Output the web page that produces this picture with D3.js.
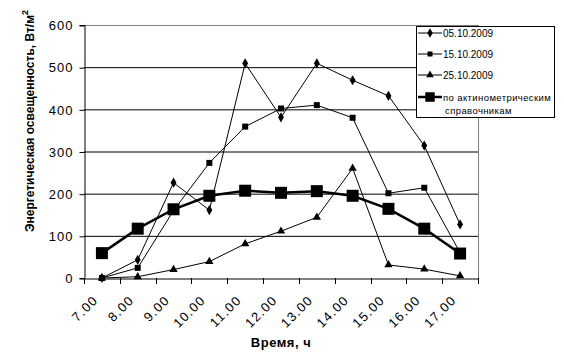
<!DOCTYPE html>
<html><head><meta charset="utf-8">
<script src="https://cdn.jsdelivr.net/npm/d3@7"></script>
<style>body{margin:0;background:#fff}svg{display:block;font-family:"Liberation Sans",Arial,sans-serif}</style>
</head><body><svg id="c" width="564" height="355"></svg>
<script>
const categories = ["7.00","8.00","9.00","10.00","11.00","12.00","13.00","14.00","15.00","16.00","17.00"];
const s0510 = [0,43,226,161,509,381,509,469,432,314,127];
const s1510 = [0,24,160,273,359,402,410,380,201,214,60];
const s2510 = [0,3,20,39,81,111,144,260,31,21,5];
const sRef  = [59,117,163,195,207,202,206,195,164,117,58];
const yTicks = [0,100,200,300,400,500,600];
const seriesNames = ["05.10.2009","15.10.2009","25.10.2009","по актинометрическим справочникам"];

const svg = d3.select("#c");
const L=84,R=478,T=25,B=278;
const x = d3.scaleBand().domain(categories).range([L,R]);
const y = d3.scaleLinear().domain([0,600]).range([B,T]);
const cx = d => x(d)+x.bandwidth()/2;

// gridlines
svg.append("g").selectAll("line").data(yTicks.filter(v=>v>0)).join("line")
  .attr("x1",L).attr("x2",R).attr("y1",d=>y(d)+0.5).attr("y2",d=>y(d)+0.5)
  .attr("stroke",d=>d===600?"#808080":"#000").attr("stroke-width",1);
svg.append("line").attr("x1",R+0.5).attr("x2",R+0.5).attr("y1",T).attr("y2",B).attr("stroke","#808080");

// y axis
const ya = svg.append("g").attr("transform",`translate(${L+0.5},0)`)
  .call(d3.axisLeft(y).tickValues(yTicks).tickSize(5).tickFormat(d3.format("d")));
ya.select(".domain").attr("stroke","#000");
ya.selectAll(".tick line").attr("stroke","#000").attr("transform","translate(0,0.5)");
ya.selectAll("text").attr("font-size",13).attr("fill","#000").attr("letter-spacing",1)
  .attr("font-family","Liberation Sans, Arial, sans-serif").attr("x",-11).attr("dy","0.36em");

// x axis
const xa = svg.append("g").attr("transform",`translate(0,${B+0.5})`)
  .call(d3.axisBottom(x).tickSize(0).tickFormat(""));
xa.select(".domain").attr("stroke","#000");
const bounds = d3.range(categories.length+1).map(i=>L+i*x.bandwidth());
svg.append("g").selectAll("line").data(bounds).join("line")
  .attr("x1",d=>Math.round(d)+0.5).attr("x2",d=>Math.round(d)+0.5).attr("y1",B).attr("y2",B+6).attr("stroke","#000");
svg.append("g").selectAll("text").data(categories).join("text")
  .attr("transform",d=>`translate(${cx(d)-3},${B+23}) rotate(-45)`)
  .attr("text-anchor","end").attr("font-size",13).attr("letter-spacing",1.3).text(d=>d);

// axis titles
svg.append("text").attr("x",281).attr("y",347).attr("text-anchor","middle")
  .attr("font-size",13).attr("font-weight","bold").attr("letter-spacing",0.5).text("Время, ч");
const yt = svg.append("text").attr("transform","translate(34,121) rotate(-90)")
  .attr("text-anchor","middle").attr("font-size",12).attr("font-weight","bold");
yt.append("tspan").text("Энергетическая освещенность, Вт/м");
yt.append("tspan").attr("dy",-6).attr("font-size",9).text("2");

// series
const line = d3.line().x((d,i)=>cx(categories[i])).y(d=>y(d));
const sym = (type,size)=>d3.symbol().type(type).size(size)();
function drawSeries(data, w, type, size){
  svg.append("path").attr("d",line(data)).attr("fill","none").attr("stroke","#000").attr("stroke-width",w);
  svg.append("g").selectAll("path").data(data).join("path")
    .attr("transform",(d,i)=>`translate(${cx(categories[i])},${y(d)})`)
    .attr("d",sym(type,size)).attr("fill","#000");
}
drawSeries(s0510,1,d3.symbolDiamond,30);
drawSeries(s1510,1,d3.symbolSquare,36);
drawSeries(s2510,1,d3.symbolTriangle,30);
drawSeries(sRef,2.5,d3.symbolSquare,144);

// legend
const lg = svg.append("g");
lg.append("rect").attr("x",416.5).attr("y",26.5).attr("width",138).attr("height",91).attr("fill","#fff").attr("stroke","#000");
const legItems = [
  {name:seriesNames[0],type:d3.symbolDiamond,size:25,w:1,yy:33},
  {name:seriesNames[1],type:d3.symbolSquare,size:25,w:1,yy:54},
  {name:seriesNames[2],type:d3.symbolTriangle,size:25,w:1,yy:75},
  {name:seriesNames[3],type:d3.symbolSquare,size:90,w:2.5,yy:97}
];
legItems.forEach(it=>{
  lg.append("line").attr("x1",418).attr("x2",442).attr("y1",it.yy).attr("y2",it.yy).attr("stroke","#000").attr("stroke-width",it.w);
  lg.append("path").attr("transform",`translate(430,${it.yy})`).attr("d",sym(it.type,it.size)).attr("fill","#000");
});
lg.append("text").attr("x",443).attr("y",37).attr("font-size",10).text(seriesNames[0]);
lg.append("text").attr("x",443).attr("y",58).attr("font-size",10).text(seriesNames[1]);
lg.append("text").attr("x",443).attr("y",79).attr("font-size",10).text(seriesNames[2]);
lg.append("text").attr("x",443).attr("y",101).attr("font-size",9.5).attr("letter-spacing",0.4).text("по актинометрическим");
lg.append("text").attr("x",445).attr("y",114).attr("font-size",9.5).attr("letter-spacing",0.4).text("справочникам");
</script></body></html>
